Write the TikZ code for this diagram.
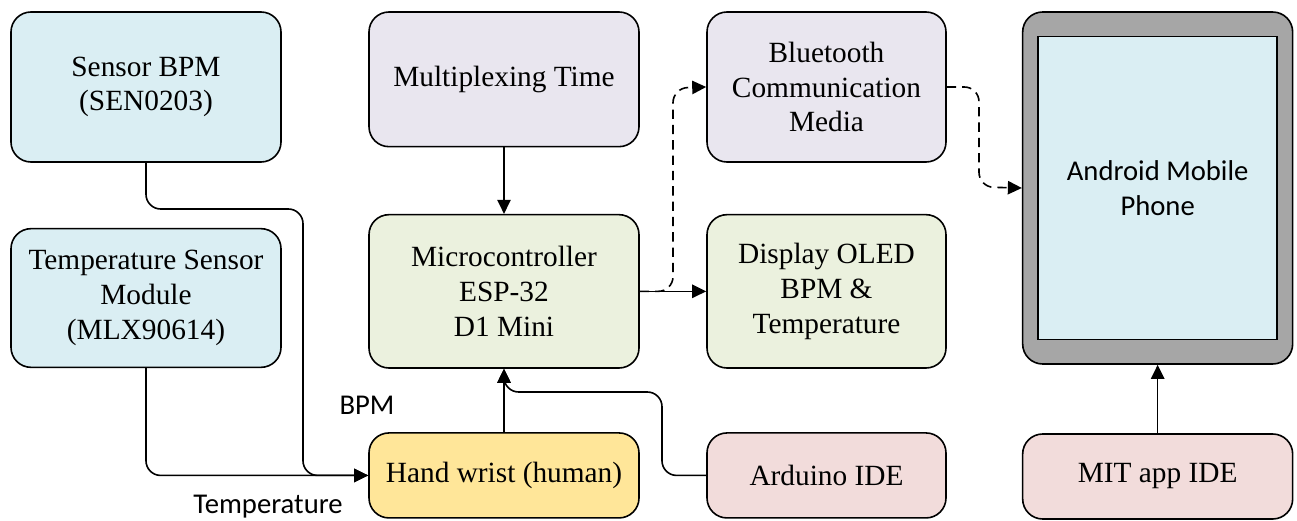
\documentclass[tikz,border=0pt]{standalone}
\usepackage{fontspec}
\setmainfont{Liberation Serif}
\newfontfamily\tagfont{Carlito}
\usepackage{tikz}
\usetikzlibrary{arrows.meta,positioning,shapes,calc}
\definecolor{sensorblue}{HTML}{DAEEF3}
\definecolor{lilac}{HTML}{E9E6EF}
\definecolor{mintgreen}{HTML}{EBF1DE}
\definecolor{wristyellow}{HTML}{FFE699}
\definecolor{idepink}{HTML}{F2DCDB}
\definecolor{casegray}{HTML}{A6A6A6}
\tikzset{
  block/.style={rectangle,draw,rounded corners=15pt,align=center,line width=1.2pt,
    minimum width=202.5pt,font=\fontsize{22}{26}\selectfont},
  sensor/.style={block,fill=sensorblue},
  proc/.style={block,fill=lilac},
  ctrl/.style={block,fill=mintgreen},
  human/.style={block,fill=wristyellow,minimum height=63.75pt},
  ide/.style={block,fill=idepink,minimum height=63.75pt},
  phonecase/.style={rectangle,draw,rounded corners=15pt,line width=1.2pt,fill=casegray,
    minimum width=202.5pt,minimum height=264pt},
  screen/.style={rectangle,draw,line width=1.2pt,fill=sensorblue,align=center,
    minimum width=179.25pt,minimum height=227pt,font=\tagfont\fontsize{21.5}{26}\selectfont},
  tag/.style={font=\tagfont\fontsize{21.5}{26}\selectfont,inner sep=0pt},
  arrow/.style={-{Triangle[length=10.5pt,width=10pt]},line width=1.2pt,rounded corners=11pt},
  radio/.style={arrow,dash pattern=on 7pt off 4.5pt},
}

\begin{document}
\begin{tikzpicture}[x=0.75pt,y=-0.75pt]
\useasboundingbox (0,0) rectangle (1297,521);

% sensors column
\node[sensor,minimum height=112.5pt] (bpm) at (146,87) {Sensor BPM\\(SEN0203)};
\node[sensor,below=48.8pt of bpm,minimum height=104pt] (temp) {Temperature Sensor\\Module\\(MLX90614)};

% controller column
\node[proc,right=64.8pt of bpm.north east,anchor=north west,minimum height=101pt] (mux) {Multiplexing Time};
\node[ctrl,below=49.8pt of mux,minimum height=115pt] (mcu) {Microcontroller\\ESP-32\\D1 Mini};
\node[human,below=47.5pt of mcu] (hand) {Hand wrist (human)};

% outputs column
\node[proc,right=49.8pt of mux.north east,anchor=north west,minimum width=179.25pt,minimum height=112.5pt] (bt) {Bluetooth\\Communication\\Media};
\node[ctrl,right=49.8pt of mcu,minimum width=179.25pt,minimum height=115pt] (oled) {Display OLED\\BPM \&\\Temperature};
\node[ide,right=49.8pt of hand,minimum width=179.25pt] (ard) {Arduino IDE};

% phone
\node[phonecase,right=56.3pt of bt.north east,anchor=north west] (phone) {};
\node[screen] (scr) at (phone.center) {Android Mobile\\Phone};
\node[ide,below=51.3pt of phone] (mit) {MIT app IDE};

% signal labels
\node[tag] (bpmtag) at (367,405) {BPM};
\node[tag] (temptag) at (268,507) {Temperature};

% bends
\coordinate (bpmbend) at (303,209);
\coordinate (ardup) at (662,392);
\coordinate (btup) at (673,88);
\coordinate (phdown) at (979,187);

\draw[arrow] (bpm.south) |- (bpmbend) |- (hand.west);
\draw[arrow] (temp.south) |- (hand.west);
\draw[arrow] (mux) -- (mcu);
\draw[arrow] (hand) -- (mcu);
\draw[arrow] (ard.west) -| (ardup) -| (mcu.south);
\draw[arrow] (mcu) -- (oled);
\draw[arrow] (mit) -- (phone);

% bluetooth link
\draw[radio] (mcu.east) -| (btup) -- (bt.west);
\draw[radio] (bt.east) -| (phdown) -- (phone.west);
\end{tikzpicture}
\end{document}
